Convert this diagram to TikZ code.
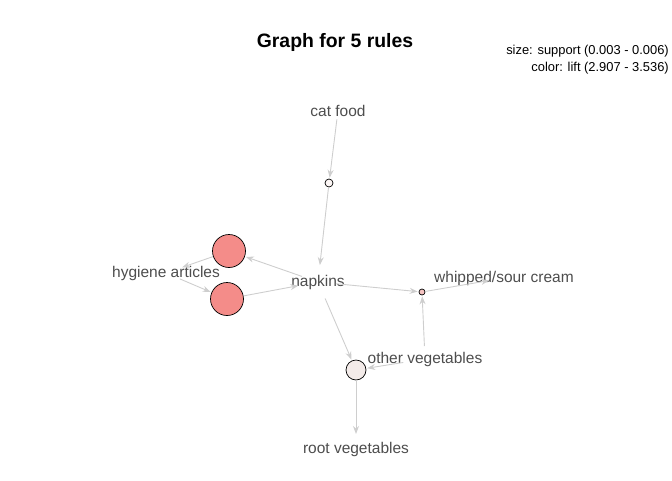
\documentclass[tikz,border=0pt]{standalone}
\usepackage{fontspec}
\setmainfont{Liberation Sans}
\usetikzlibrary{arrows.meta}
\definecolor{edgegray}{RGB}{206,206,206}
\definecolor{labelgray}{RGB}{77,77,77}
\definecolor{liftred}{RGB}{244,140,137}
\definecolor{liftpink}{RGB}{246,196,194}
\definecolor{liftpale}{RGB}{243,235,233}
\definecolor{liftwhite}{RGB}{253,247,246}
\tikzset{
    rule/.style     = { circle, draw=black, line width=0.7pt, inner sep=0pt },
	item/.style     = { text=labelgray, inner sep=0pt, anchor=base,
	font=\fontsize{15.5}{18}\selectfont },
	line/.style     = { draw=edgegray, line width=0.9pt,
	-{Stealth[length=8pt,width=6pt]}, shorten >=1pt },
}
{
	\tikzset{item/.append style={text height=1.5ex,text depth=.25ex}}
}

\begin{document}
\begin{tikzpicture}[x=1pt,y=-1pt]
				\useasboundingbox (0,0) rectangle (672,480);
				% title and legend
				\node (title) [anchor=base] at (335,47) {\fontsize{19.4}{22}\selectfont\bfseries Graph for 5 rules};
				\node (legend) [anchor=north east, align=right, inner sep=0pt,
				font=\fontsize{12.9}{17}\selectfont] at (669,45)
				{size: support (0.003 - 0.006)\\ color: lift (2.907 - 3.536)};
				% items
				\node (cat) [item] at (338,116) {cat food};
				\node (napkins) [item] at (318,286) {napkins};
				\node (hyg) [item] at (166,277) {hygiene articles};
				\node (whip) [item] at (504,282) {whipped/sour cream};
				\node (other) [item] at (425,363) {other vegetables};
				\node (root) [item] at (356,453) {root vegetables};
				% rules
				\node (r1) [rule, fill=liftwhite, minimum size=8pt] at (329,183) {};
				\node (r2) [rule, fill=liftred, minimum size=33pt] at (229,251) {};
				\node (r3) [rule, fill=liftred, minimum size=33pt] at (227,299) {};
				\node (r4) [rule, fill=liftpink, minimum size=6pt] at (422,292) {};
				\node (r5) [rule, fill=liftpale, minimum size=20pt] at (356,370) {};
				% edges
				\draw [line, shorten <=9pt] (cat.center) -- (r1);
				\draw [line, shorten >=17pt] (r1) -- (napkins.center);
				\draw [line, shorten <=17pt] (napkins.center) -- (r2);
				\draw [line, shorten >=17pt] (r2) -- (hyg.center);
				\draw [line, shorten <=15pt] (hyg.center) -- (r3);
				\draw [line, shorten >=20pt] (r3) -- (napkins.center);
				\draw [line, shorten <=18pt] (napkins.center) -- (r4);
				\draw [line, shorten >=15pt] (r4) -- (whip.center);
				\draw [line, shorten <=13pt] (other.center) -- (r4);
				\draw [line, shorten <=18pt] (napkins.center) -- (r5);
				\draw [line, shorten <=22pt] (other.center) -- (r5);
				\draw [line, shorten >=15pt] (r5) -- (root.center);
				\end{tikzpicture}
\end{document}
